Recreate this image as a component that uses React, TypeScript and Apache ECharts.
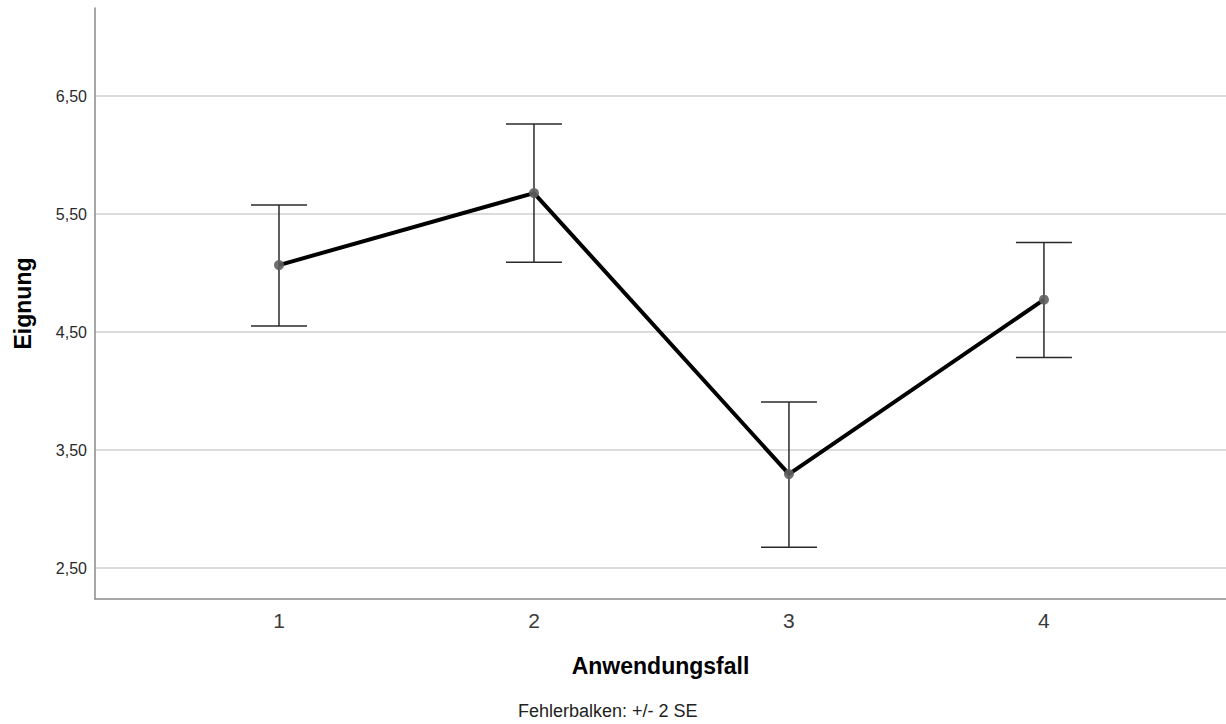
import React, { useEffect, useRef } from "react";
import * as echarts from "echarts";

const categories = [1, 2, 3, 4];
const means = [5.068, 5.678, 3.297, 4.775];
const lows = [4.551, 5.092, 2.678, 4.285];
const highs = [5.576, 6.263, 3.907, 5.26];
const yTicks = [2.5, 3.5, 4.5, 5.5, 6.5];
const footnote = "Fehlerbalken: +/- 2 SE";

export default function App() {
  const ref = useRef<HTMLDivElement>(null);
  useEffect(() => {
    if (!ref.current) return;
    const chart = echarts.init(ref.current, null, { renderer: "svg" });
    const font = "'Liberation Sans', Arial, sans-serif";
    const lineData = categories.map((c, i) => [c, means[i]]);
    const errData = categories.map((c, i) => [c, lows[i], highs[i]]);
    chart.setOption({
      animation: false,
      backgroundColor: "#ffffff",
      grid: { left: 95, right: 0, top: 8, bottom: 125, containLabel: false },
      xAxis: {
        type: "value",
        min: 0.2784,
        max: 4.714,
        axisLine: { show: true, lineStyle: { color: "#8a8a8a", width: 1.5 } },
        axisTick: { show: false, customValues: categories },
        splitLine: { show: false },
        axisLabel: {
          customValues: categories,
          fontFamily: font,
          fontSize: 21,
          color: "#3a3a3a",
          margin: 11,
          formatter: (v: number) => String(v),
        },
        name: "Anwendungsfall",
        nameLocation: "middle",
        nameGap: 55,
        nameTextStyle: { fontFamily: font, fontSize: 23, fontWeight: "bold", color: "#000000" },
      },
      yAxis: {
        type: "value",
        min: 2.239,
        max: 7.246,
        axisLine: { show: true, lineStyle: { color: "#8a8a8a", width: 1.5 } },
        axisTick: { show: false, customValues: yTicks },
        splitLine: { show: true, lineStyle: { color: "#cfcfcf", width: 1.5 } },
        axisLabel: {
          customValues: yTicks,
          fontFamily: font,
          fontSize: 16,
          color: "#2a2a2a",
          margin: 8,
          formatter: (v: number) => v.toFixed(2).replace(".", ","),
        },
        name: "Eignung",
        nameLocation: "middle",
        nameRotate: 90,
        nameGap: 61,
        nameTextStyle: { fontFamily: font, fontSize: 23, fontWeight: "bold", color: "#000000" },
      },
      series: [
        {
          type: "custom",
          z: 2,
          data: errData,
          renderItem: (params: any, api: any) => {
            const x = api.value(0);
            const lo = api.coord([x, api.value(1)]);
            const hi = api.coord([x, api.value(2)]);
            const half = 28;
            const style = { stroke: "#2a2a2a", lineWidth: 1.5 };
            return {
              type: "group",
              children: [
                { type: "line", shape: { x1: lo[0], y1: lo[1], x2: hi[0], y2: hi[1] }, style },
                { type: "line", shape: { x1: hi[0] - half, y1: hi[1], x2: hi[0] + half, y2: hi[1] }, style },
                { type: "line", shape: { x1: lo[0] - half, y1: lo[1], x2: lo[0] + half, y2: lo[1] }, style },
              ],
            };
          },
        },
        {
          type: "line",
          z: 3,
          data: lineData,
          lineStyle: { color: "#000000", width: 4 },
          symbol: "circle",
          symbolSize: 10,
          itemStyle: { color: "#606060", opacity: 0.9 },
          showSymbol: true,
        },
      ],
      graphic: [
        {
          type: "text",
          left: 518,
          top: 702,
          style: { text: footnote, fontFamily: font, fontSize: 18, fill: "#222222" },
        },
      ],
    });
    return () => chart.dispose();
  }, []);
  return (
    <div
      ref={ref}
      style={{ position: "fixed", left: 0, top: 0, width: 1226, height: 724 }}
    />
  );
}
